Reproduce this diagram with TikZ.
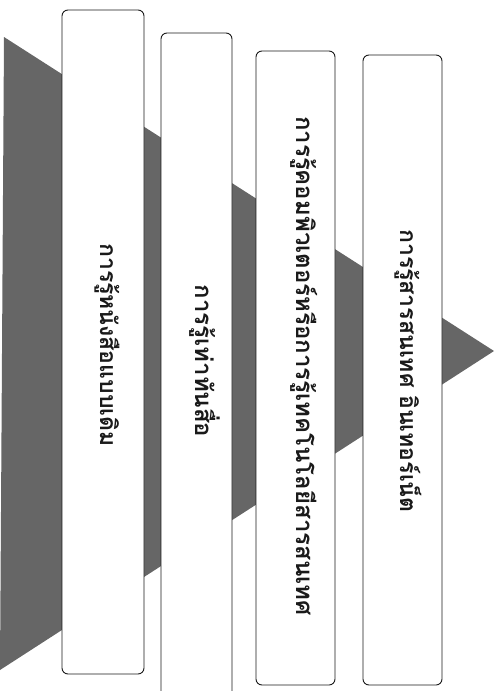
\documentclass[tikz,border=0pt]{standalone}
\usepackage{fontspec}
\newfontfamily\thaifont[Script=Thai]{Loma}
\usepackage{tikz}
\definecolor{inkgray}{HTML}{1A1A1A}
\definecolor{funnelgray}{HTML}{666666}

\begin{document}
\begin{tikzpicture}[
    x=1pt, y=-1pt,
    font=\thaifont\bfseries\fontsize{23}{25}\selectfont,
    stagebox/.style={draw=inkgray, fill=white, rounded corners=6pt,
                  line width=0.9pt},
    stagetext/.style={rotate=-90, inner sep=0pt, text=inkgray}
]
  \useasboundingbox (0,0) rectangle (500,691);

  % funnel pointing right
  \coordinate (topleft) at (4,37);
  \coordinate (botleft) at (0,670);
  \coordinate (apex) at (494,351);
  \fill[funnelgray] (topleft) -- (apex) -- (botleft) -- cycle;

  % stage boxes
  \draw[stagebox] (62,10) rectangle (144,674);
  \draw[stagebox] (161,33) rectangle (232,720);
  \draw[stagebox] (256,51) rectangle (335,685);
  \draw[stagebox] (363,55) rectangle (442,685);

  \node[stagetext] (stage1) at (107,345) {การรู้หนังสือแบบเดิม};
  \node[stagetext] (stage2) at (205,361) {\fontsize{24}{26}\selectfont การรู้เท่าทันสื่อ};
  \node[stagetext] (stage3) at (304,366) {\fontsize{24}{26}\selectfont การรู้คอมพิวเตอร์หรือการรู้เทคโนโลยีสารสนเทศ};
  \node[stagetext] (stage4) at (408,371) {การรู้สารสนเทศ อินเทอร์เน็ต};
\end{tikzpicture}
\end{document}
